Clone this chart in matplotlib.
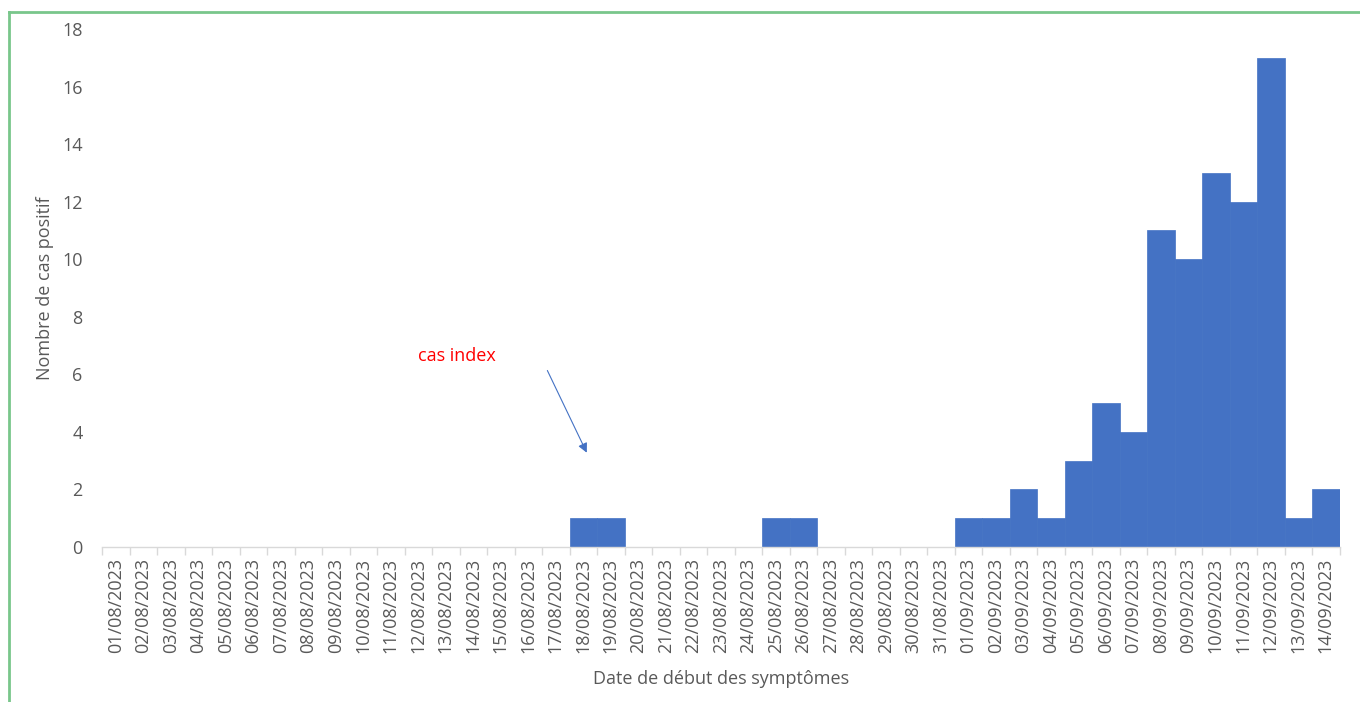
import datetime as dt
import matplotlib
matplotlib.use("Agg")
import matplotlib.pyplot as plt
from matplotlib.lines import Line2D

plt.rcParams["font.family"] = ["Open Sans", "DejaVu Sans"]

# Daily counts of positive cases by date of symptom onset
start = dt.date(2023, 8, 1)
n_days = 45
dates = [(start + dt.timedelta(days=i)).strftime("%d/%m/%Y") for i in range(n_days)]
onset_counts = {
    "18/08/2023": 1, "19/08/2023": 1,
    "25/08/2023": 1, "26/08/2023": 1,
    "01/09/2023": 1, "02/09/2023": 1, "03/09/2023": 2, "04/09/2023": 1,
    "05/09/2023": 3, "06/09/2023": 5, "07/09/2023": 4, "08/09/2023": 11,
    "09/09/2023": 10, "10/09/2023": 13, "11/09/2023": 12, "12/09/2023": 17,
    "13/09/2023": 1, "14/09/2023": 2,
}
cases = [onset_counts.get(d, 0) for d in dates]

y_ticks = list(range(0, 19, 2))
index_label = "cas index"
index_text_pos = (12.4, 6.65)
index_arrow_tail = (15.65, 6.22)
index_arrow_head = (17.17, 3.19)

bar_color = "#4472C4"
text_gray = "#595959"
axis_gray = "#D9D9D9"
fs = 13

fig = plt.figure(figsize=(13.6, 7.02), dpi=100)
ax = fig.add_axes([0.075, 0.2208, 0.910, 0.7379])

x = list(range(n_days))
ax.bar(x, cases, width=1.0, color=bar_color, edgecolor=bar_color, linewidth=0.5, zorder=2)

ax.set_xlim(-0.5, n_days - 0.5)
ax.set_ylim(0, 18)
ax.set_yticks(y_ticks)
ax.set_xticks(x)
ax.set_xticklabels(dates, rotation=90)
ax.set_xticks([i - 0.5 for i in range(n_days + 1)], minor=True)

ax.tick_params(axis="x", which="major", length=0, pad=8, labelsize=fs, labelcolor=text_gray)
ax.tick_params(axis="x", which="minor", length=6, width=1, color=axis_gray)
ax.tick_params(axis="y", length=0, pad=14, labelsize=fs, labelcolor=text_gray)

for side in ("top", "right", "left"):
    ax.spines[side].set_visible(False)
ax.spines["bottom"].set_color(axis_gray)
ax.spines["bottom"].set_linewidth(1)

ax.set_ylabel("Nombre de cas positif", fontsize=fs, color=text_gray, labelpad=6)
ax.set_xlabel("Date de début des symptômes", fontsize=fs, color=text_gray, labelpad=12)

ax.text(*index_text_pos, index_label, color="red", fontsize=fs, ha="center", va="center")
ax.annotate("", xy=index_arrow_head, xytext=index_arrow_tail,
            arrowprops=dict(arrowstyle="-|>", color=bar_color, lw=0.8, mutation_scale=14))

# Green frame around the chart area
frame_color = "#79C68B"
fig.add_artist(Line2D([9 / 1360, 9 / 1360], [0, 1 - 12 / 702], transform=fig.transFigure,
                      color=frame_color, lw=2))
fig.add_artist(Line2D([9 / 1360, 1], [1 - 12 / 702, 1 - 12 / 702], transform=fig.transFigure,
                      color=frame_color, lw=2))

fig.savefig("out.png", dpi=100)
